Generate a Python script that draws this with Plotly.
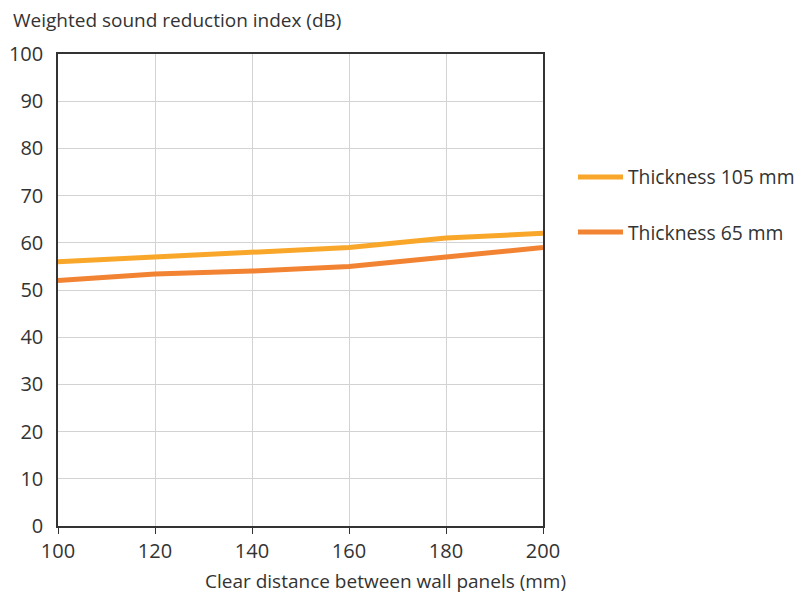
import plotly.graph_objects as go

distance_mm = [100, 120, 140, 160, 180, 200]
thickness_105 = [56, 57, 58, 59, 61, 62]
thickness_65 = [52, 53.4, 54, 55, 57, 59]
y_ticks = [0, 10, 20, 30, 40, 50, 60, 70, 80, 90, 100]
x_ticks = [100, 120, 140, 160, 180, 200]

FONT = "Open Sans, Noto Sans, sans-serif"
TXT = "#333333"

# page body has an 8px margin, so the figure is 8px smaller and offset
PW, PH = 485, 472  # plot area size in px

fig = go.Figure()
fig.add_trace(go.Scatter(x=distance_mm, y=thickness_105, mode="lines",
                         name="Thickness 105 mm", legendgroup="a",
                         line=dict(color="#F9A72B", width=5)))
fig.add_trace(go.Scatter(x=distance_mm, y=thickness_65, mode="lines",
                         name="Thickness 65 mm", legendgroup="b",
                         line=dict(color="#F28333", width=5)))

fig.update_layout(
    width=804, height=585,
    margin=dict(l=50, r=269, t=46, b=67, autoexpand=False),
    paper_bgcolor="white", plot_bgcolor="white",
    font=dict(family=FONT, color=TXT, size=20),
    showlegend=True,
    legend=dict(x=(573 - 58) / PW, y=0.78, xanchor="left", yanchor="top",
                font=dict(size=19.3, color=TXT), tracegroupgap=27,
                itemwidth=45, bgcolor="rgba(0,0,0,0)"),
    xaxis=dict(range=[100, 200], tickvals=x_ticks, showgrid=True,
               gridcolor="#d3d3d3", gridwidth=1, showline=True,
               linecolor="#333333", linewidth=1.5, mirror=True,
               ticks="outside", ticklen=6, tickcolor="#333333", automargin=False,
               tickfont=dict(size=20, color=TXT), zeroline=False),
    yaxis=dict(range=[0, 100], tickvals=y_ticks, showgrid=True,
               gridcolor="#d3d3d3", gridwidth=1, showline=True,
               linecolor="#333333", linewidth=1.5, mirror=True,
               ticks="", ticklabelstandoff=9, automargin=False,
               tickfont=dict(size=20, color=TXT), zeroline=False),
    annotations=[
        dict(text="Weighted sound reduction index (dB)", xref="paper", yref="paper",
             x=-47/PW, y=1 + 34/PH, xanchor="left", yanchor="middle",
             showarrow=False, font=dict(size=19, color=TXT)),
        dict(text="Clear distance between wall panels (mm)", xref="paper", yref="paper",
             x=(568-58)/PW, y=-55/PH, xanchor="right", yanchor="middle",
             showarrow=False, font=dict(size=19, color=TXT)),
    ],
)

fig.write_html("out.html")
